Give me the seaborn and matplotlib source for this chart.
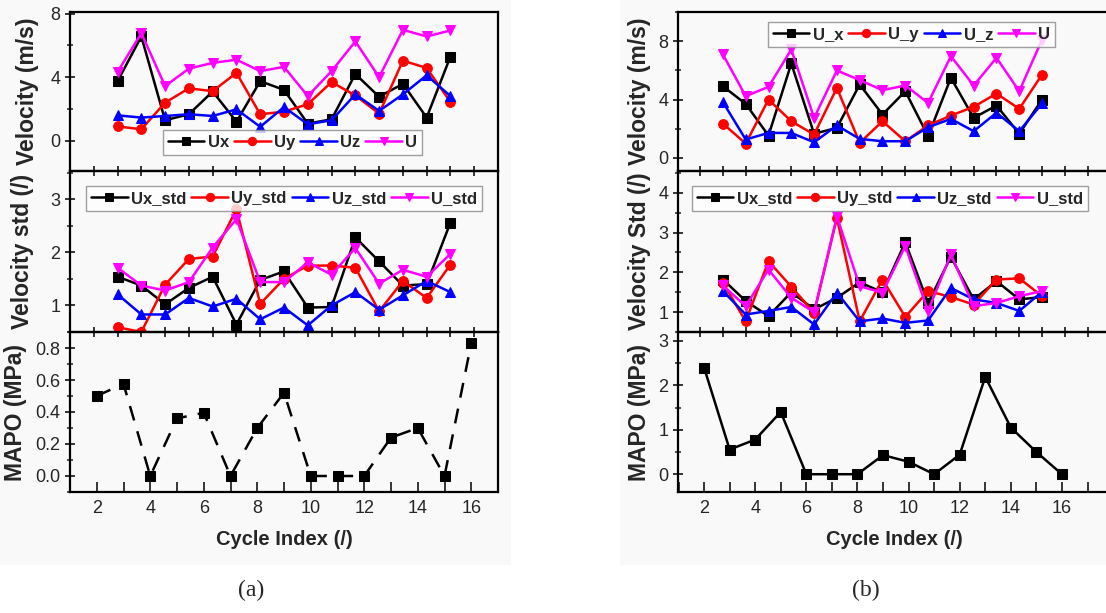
import numpy as np
import pandas as pd
import seaborn as sns
import matplotlib.pyplot as plt
from matplotlib.patches import Rectangle
from matplotlib.ticker import MultipleLocator

# Position of each velocity sample (top two rows) and cycle index (bottom row)
pos = list(range(1, 16))
cycles = list(range(2, 17))

# (a) mean velocities
a_ux = [3.75, 6.56, 1.29, 1.67, 3.1, 1.2, 3.75, 3.2, 1.08, 1.35, 4.2, 2.77, 3.58, 1.46, 5.3]
a_uy = [0.9, 0.73, 2.4, 3.3, 3.12, 4.27, 1.67, 1.83, 2.3, 3.69, 2.85, 1.71, 5.04, 4.58, 2.44]
a_uz = [1.6, 1.46, 1.56, 1.67, 1.56, 1.98, 0.88, 2.12, 1.04, 1.29, 2.92, 1.88, 2.92, 4.12, 2.81]
a_u = [4.33, 6.77, 3.44, 4.54, 4.9, 5.1, 4.38, 4.65, 2.81, 4.38, 6.25, 4.0, 6.98, 6.56, 6.94]
# (a) velocity std
a_ux_std = [1.54, 1.375, 1.02, 1.33, 1.54, 0.64, 1.48, 1.64, 0.96, 0.97, 2.28, 1.83, 1.375, 1.4, 2.56]
a_uy_std = [0.59, 0.5, 1.39, 1.875, 1.92, 2.81, 1.03, 1.5, 1.75, 1.75, 1.71, 0.89, 1.46, 1.14, 1.77]
a_uz_std = [1.21, 0.83, 0.83, 1.14, 0.98, 1.125, 0.74, 0.96, 0.625, 1.0, 1.25, 0.92, 1.19, 1.46, 1.25]
a_u_std = [1.71, 1.375, 1.28, 1.44, 2.09, 2.625, 1.44, 1.44, 1.81, 1.58, 2.08, 1.41, 1.67, 1.54, 1.97]
# (a) MAPO
a_mapo = [0.5, 0.576, 0.0, 0.36, 0.395, 0.0, 0.30, 0.52, 0.0, 0.0, 0.0, 0.24, 0.30, 0.0, 0.83]

# (b) mean velocities
b_ux = [4.91, 3.7, 1.53, 6.47, 1.65, 2.06, 5.03, 2.97, 4.57, 1.49, 5.49, 2.74, 3.59, 1.65, 4.0]
b_uy = [2.35, 0.98, 4.0, 2.51, 1.6, 4.8, 1.03, 2.51, 1.14, 2.22, 2.9, 3.5, 4.41, 3.36, 5.71]
b_uz = [3.82, 1.26, 1.71, 1.71, 1.07, 2.22, 1.3, 1.14, 1.14, 2.1, 2.67, 1.83, 3.09, 1.83, 3.73]
b_u = [7.09, 4.23, 4.87, 7.43, 2.74, 5.99, 5.33, 4.64, 4.96, 3.77, 6.97, 4.96, 6.86, 4.57, 8.11]
# (b) velocity std
b_ux_std = [1.82, 1.28, 0.9, 1.5, 1.07, 1.36, 1.75, 1.5, 2.76, 1.23, 2.39, 1.32, 1.78, 1.32, 1.38]
b_uy_std = [1.74, 0.77, 2.28, 1.64, 0.98, 3.37, 0.77, 1.82, 0.88, 1.53, 1.38, 1.19, 1.82, 1.85, 1.4]
b_uz_std = [1.53, 0.94, 1.03, 1.13, 0.69, 1.49, 0.77, 0.84, 0.73, 0.79, 1.61, 1.32, 1.23, 1.03, 1.51]
b_u_std = [1.67, 1.15, 2.07, 1.36, 1.0, 3.41, 1.65, 1.49, 2.66, 1.03, 2.45, 1.15, 1.23, 1.4, 1.53]
# (b) MAPO
b_mapo = [2.4, 0.555, 0.78, 1.40, 0.0, 0.0, 0.0, 0.43, 0.28, 0.0, 0.44, 2.19, 1.05, 0.5, 0.0]

colors = ['black', 'red', 'blue', '#ff00ff']
markers = ['s', 'o', '^', 'v']

sns.set_style('ticks')
plt.rcParams['font.family'] = ['Liberation Sans', 'DejaVu Sans']
plt.rcParams['axes.linewidth'] = 1.6

fig = plt.figure(figsize=(11.06, 6.13), dpi=100)

# faint grey backgrounds of the two screenshots
fig.patches.append(Rectangle((0, 1 - 565 / 613), 511 / 1106, 565 / 613, transform=fig.transFigure,
                             facecolor='#f9f9f9', edgecolor='none', zorder=-10))
fig.patches.append(Rectangle((620 / 1106, 1 - 565 / 613), 486 / 1106, 565 / 613, transform=fig.transFigure,
                             facecolor='#f9f9f9', edgecolor='none', zorder=-10))

H = 613
rows = [(12, 171), (171, 332), (332, 492)]


def make_axes(left_px, width_px):
    axs = []
    for top, bot in rows:
        axs.append(fig.add_axes([left_px / 1106, 1 - bot / H, width_px / 1106, (bot - top) / H]))
    return axs


def series(ax, ys, labels):
    for y, lab, c, m in zip(ys, labels, colors, markers):
        sns.lineplot(x=pos, y=y, ax=ax, color=c, marker=m, markersize=7, markeredgecolor=c,
                     linewidth=1.8, label=lab, sort=False)


def style(ax, fs=13):
    for s in ax.spines.values():
        s.set_linewidth(1.6)
        s.set_color('black')
    ax.tick_params(axis='y', direction='inout', length=7, width=1.3, labelsize=fs)
    ax.tick_params(axis='y', which='minor', direction='inout', length=5, width=1.1)
    ax.set_facecolor('none')


def legend(ax, labels_anchor, loc):
    leg = ax.legend(loc=loc, bbox_to_anchor=labels_anchor, ncol=4, frameon=True, fancybox=False,
                    edgecolor='#888888', handlelength=2.2, handletextpad=0.2, columnspacing=0.3,
                    borderpad=0.3, markerscale=0.85, prop={'weight': 'bold', 'size': 12})
    leg.get_frame().set_linewidth(1.0)


def panel(left_px, width_px, data, top_labels, std_labels, mapo, cfg):
    ax1, ax2, ax3 = make_axes(left_px, width_px)
    for ax in (ax1, ax2, ax3):
        style(ax)

    series(ax1, data[0], top_labels)
    ax1.set_xlim(*cfg['xlim_top'])
    ax1.set_ylim(*cfg['ylim1'])
    ax1.yaxis.set_major_locator(MultipleLocator(4))
    ax1.yaxis.set_minor_locator(MultipleLocator(2))
    ax1.set_ylabel('Velocity (m/s)', fontsize=16.5, fontweight='bold', labelpad=cfg['pad'][0])
    legend(ax1, cfg['leg1'][0], cfg['leg1'][1])

    series(ax2, data[1], std_labels)
    ax2.set_xlim(*cfg['xlim_top'])
    ax2.set_ylim(*cfg['ylim2'])
    ax2.yaxis.set_major_locator(MultipleLocator(1))
    ax2.yaxis.set_minor_locator(MultipleLocator(0.5))
    ax2.set_ylabel(cfg['std_label'], fontsize=16.5, fontweight='bold', labelpad=cfg['pad'][1])
    legend(ax2, cfg['leg2'], 'upper center')

    for ax in (ax1, ax2):
        ax.xaxis.set_major_locator(MultipleLocator(1))
        ax.tick_params(axis='x', direction='inout', length=7, width=1.3, labelbottom=False)
        ax.set_xlabel('')

    sns.lineplot(x=cycles, y=mapo, ax=ax3, color='black', marker='s', markersize=7,
                 markeredgecolor='black', linewidth=1.8, linestyle=cfg['mapo_ls'])
    if cfg['mapo_ls'] == '--':
        ax3.lines[0].set_dashes((6, 4.5))
    ax3.set_xlim(*cfg['xlim_bot'])
    ax3.set_ylim(*cfg['ylim3'])
    ax3.xaxis.set_major_locator(MultipleLocator(2))
    ax3.xaxis.set_minor_locator(MultipleLocator(1))
    ax3.yaxis.set_major_locator(MultipleLocator(cfg['y3major']))
    ax3.yaxis.set_minor_locator(MultipleLocator(cfg['y3major'] / 2))
    if cfg['y3fmt']:
        ax3.yaxis.set_major_formatter(cfg['y3fmt'])
    ax3.tick_params(axis='x', which='both', direction='in', length=7, width=1.3, labelsize=13, pad=6)
    ax3.set_ylabel('MAPO (MPa)', fontsize=16.5, fontweight='bold', labelpad=cfg['pad'][2])
    ax3.set_xlabel('Cycle Index (/)', fontsize=14.5, fontweight='bold', labelpad=9)
    return ax1, ax2, ax3


panel(70, 428, [[a_ux, a_uy, a_uz, a_u], [a_ux_std, a_uy_std, a_uz_std, a_u_std]],
      ['Ux', 'Uy', 'Uz', 'U'], ['Ux_std', 'Uy_std', 'Uz_std', 'U_std'], a_mapo,
      dict(xlim_top=(-1, 17), xlim_bot=(1, 17), ylim1=(-1.9, 8.1), ylim2=(0.5, 3.53),
           ylim3=(-0.1, 0.9), y3major=0.2, y3fmt='{x:.1f}', std_label='Velocity std (/)',
           leg1=((0.52, 0.05), 'lower center'), leg2=(0.5, 0.96), mapo_ls='--', pad=(8, 12, 6)))

panel(678, 432, [[b_ux, b_uy, b_uz, b_u], [b_ux_std, b_uy_std, b_uz_std, b_u_std]],
      ['U_x', 'U_y', 'U_z', 'U'], ['Ux_std', 'Uy_std', 'Uz_std', 'U_std'], b_mapo,
      dict(xlim_top=(-0.97, 17.98), xlim_bot=(0.98, 17.88), ylim1=(-0.9, 10.0), ylim2=(0.5, 4.55),
           ylim3=(-0.4, 3.2), y3major=1, y3fmt=None, std_label='Velocity Std (/)',
           leg1=((0.54, 0.99), 'upper center'), leg2=(0.49, 0.96), mapo_ls='-', pad=(5, 5, 5)))

fig.text(251 / 1106, 1 - 590 / 613, '(a)', family=['Liberation Serif'], fontsize=17, ha='center', va='center')
fig.text(866 / 1106, 1 - 590 / 613, '(b)', family=['Liberation Serif'], fontsize=17, ha='center', va='center')

fig.savefig('out.png', dpi=100)
